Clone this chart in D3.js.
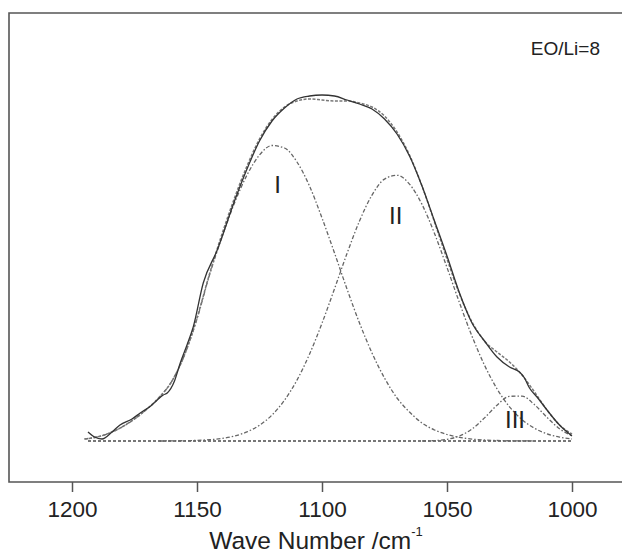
<!DOCTYPE html>
<html>
<head>
<meta charset="utf-8">
<script src="https://cdnjs.cloudflare.com/ajax/libs/d3/7.8.5/d3.min.js"></script>
<style>
  body { margin: 0; background: #fff; }
  text { font-family: Arial, "Liberation Sans", sans-serif; fill: #222; }
</style>
</head>
<body>
<div id="chart"></div>
<script>
var width = 622;
var height = 554;

// frame of the plot (right side runs off the picture)
var frame = { left: 9, top: 13, right: 624, bottom: 482 };

// wave numbers shared by the fitted curves
var waveFit = [1195, 1190, 1185, 1180, 1175, 1170, 1165, 1160, 1155, 1150,
  1145, 1140, 1135, 1130, 1125, 1120, 1115, 1110, 1105, 1100,
  1095, 1090, 1085, 1080, 1075, 1070, 1065, 1060, 1055, 1050,
  1045, 1040, 1035, 1030, 1025, 1020, 1015, 1010, 1005, 1000];

// component I
var peakI = [0.02, 0.04, 0.08, 0.14, 0.22, 0.32, 0.44, 0.60, 0.86, 1.22,
  1.66, 2.04, 2.38, 2.66, 2.86, 2.955, 2.93, 2.79, 2.55, 2.23,
  1.88, 1.52, 1.18, 0.88, 0.63, 0.43, 0.29, 0.18, 0.11, 0.065,
  0.036, 0.019, 0.010, 0.005, 0.002, 0.001, 0, 0, 0, 0];

// component II
var peakII = [0, 0, 0, 0, 0, 0, 0, 0.001, 0.003, 0.006,
  0.013, 0.026, 0.050, 0.091, 0.158, 0.26, 0.408, 0.609, 0.868, 1.178,
  1.522, 1.875, 2.20, 2.459, 2.619, 2.657, 2.569, 2.366, 2.076, 1.735,
  1.382, 1.048, 0.758, 0.522, 0.342, 0.214, 0.127, 0.072, 0.039, 0.020];

// component III
var peakIII = [0, 0, 0, 0, 0, 0, 0, 0, 0, 0,
  0, 0, 0, 0, 0, 0, 0, 0, 0, 0,
  0, 0, 0, 0, 0, 0, 0, 0, 0.004, 0.017,
  0.050, 0.120, 0.231, 0.358, 0.447, 0.449, 0.363, 0.236, 0.123, 0.052];

// sum of the fit
var fitSum = [0.02, 0.04, 0.08, 0.14, 0.22, 0.32, 0.44, 0.60, 0.86, 1.23,
  1.67, 2.07, 2.43, 2.75, 3.02, 3.215, 3.34, 3.40, 3.42, 3.41,
  3.40, 3.40, 3.38, 3.34, 3.25, 3.09, 2.86, 2.55, 2.19, 1.82,
  1.47, 1.19, 1.00, 0.89, 0.79, 0.66, 0.49, 0.31, 0.16, 0.07];

// measured spectrum
var waveData = [1193.6, 1191, 1188, 1184, 1180.8, 1176, 1172.7, 1168, 1165.9, 1163.5,
  1161.9, 1159, 1156.7, 1154, 1151.5, 1147.5, 1141.9, 1135, 1130, 1125,
  1120, 1115, 1110, 1105, 1100, 1095, 1090, 1085, 1080, 1075,
  1070, 1065, 1060, 1055, 1050, 1045, 1040, 1035, 1030, 1025,
  1021, 1019, 1017, 1014, 1010, 1005, 1000];
var absData = [0.09, 0.04, 0.02, 0.09, 0.16, 0.22, 0.28, 0.36, 0.41, 0.46,
  0.48, 0.60, 0.78, 0.96, 1.14, 1.58, 1.91, 2.40, 2.72, 3.00,
  3.20, 3.33, 3.42, 3.45, 3.46, 3.45, 3.41, 3.37, 3.32, 3.22,
  3.07, 2.85, 2.55, 2.20, 1.85, 1.48, 1.18, 1.00, 0.84, 0.74,
  0.69, 0.63, 0.53, 0.44, 0.31, 0.16, 0.05];

// straight base line
var baseWave = [1193.6, 1000];
var baseVal = [0, 0];

var xTicks = [1200, 1150, 1100, 1050, 1000];

var peakLabels = [
  { name: "I", wave: 1117.8, val: 2.48 },
  { name: "II", wave: 1070.5, val: 2.17 },
  { name: "III", wave: 1022.8, val: 0.13 }
];

var svg = d3.select("#chart")
  .append("svg")
  .attr("width", width)
  .attr("height", height);

var x = d3.scaleLinear()
  .domain([1225.2, 979.2])
  .range([frame.left, frame.right]);

var y = d3.scaleLinear()
  .domain([-0.41, 4.28])
  .range([frame.bottom, frame.top]);

// frame: top, left and bottom sides
svg.append("path")
  .attr("d", "M" + frame.right + "," + frame.top + "H" + frame.left + "V" + frame.bottom + "H" + frame.right)
  .attr("fill", "none")
  .attr("stroke", "#555")
  .attr("stroke-width", 1.6);

// x axis ticks and labels
var xAxis = svg.append("g")
  .attr("transform", "translate(0," + frame.bottom + ")")
  .call(d3.axisBottom(x).tickValues(xTicks).tickSize(10).tickPadding(9).tickFormat(d3.format("d")));
xAxis.select(".domain").remove();
xAxis.selectAll(".tick line").attr("stroke", "#555").attr("stroke-width", 1.5);
xAxis.selectAll(".tick text")
  .attr("font-size", 22.5)
  .attr("fill", "#222")
  .style("font-family", "Arial, 'Liberation Sans', sans-serif");

// axis title
var title = svg.append("text")
  .attr("x", 316)
  .attr("y", 549)
  .attr("text-anchor", "middle")
  .attr("font-size", 24.5);
title.append("tspan").text("Wave Number /cm");
title.append("tspan").attr("font-size", 13).attr("dy", -13).text("-1");

var line = d3.line()
  .x(function(d) { return x(d[0]); })
  .y(function(d) { return y(d[1]); })
  .curve(d3.curveMonotoneX);

function pairs(ws, vs) {
  return ws.map(function(w, i) { return [w, vs[i]]; });
}

var plot = svg.append("g").attr("fill", "none");

// base line
plot.append("path")
  .attr("d", line(pairs(baseWave, baseVal)))
  .attr("stroke", "#777")
  .attr("stroke-width", 2)
  .attr("stroke-dasharray", "3,2");

// components
[peakI, peakII, peakIII].forEach(function(vals) {
  var pts = pairs(waveFit, vals).filter(function(p, i) {
    return p[1] > 0 || (vals[i - 1] > 0) || (vals[i + 1] > 0);
  });
  plot.append("path")
    .attr("d", line(pts))
    .attr("stroke", "#666")
    .attr("stroke-width", 1.3)
    .attr("stroke-dasharray", "4,2,1.5,2");
});

// fitted sum
plot.append("path")
  .attr("d", line(pairs(waveFit, fitSum)))
  .attr("stroke", "#777")
  .attr("stroke-width", 1.5)
  .attr("stroke-dasharray", "3,1.5");

// measured spectrum
plot.append("path")
  .attr("d", line(pairs(waveData, absData)))
  .attr("stroke", "#333")
  .attr("stroke-width", 1.3);

// peak labels
svg.selectAll(".peak-label")
  .data(peakLabels)
  .enter()
  .append("text")
  .attr("class", "peak-label")
  .attr("x", function(d) { return x(d.wave); })
  .attr("y", function(d) { return y(d.val); })
  .attr("text-anchor", "middle")
  .attr("font-size", 24)
  .attr("fill", "#333")
  .text(function(d) { return d.name; });

svg.append("text")
  .attr("x", 600)
  .attr("y", 55)
  .attr("text-anchor", "end")
  .attr("font-size", 19)
  .text("EO/Li=8");
</script>
</body>
</html>
